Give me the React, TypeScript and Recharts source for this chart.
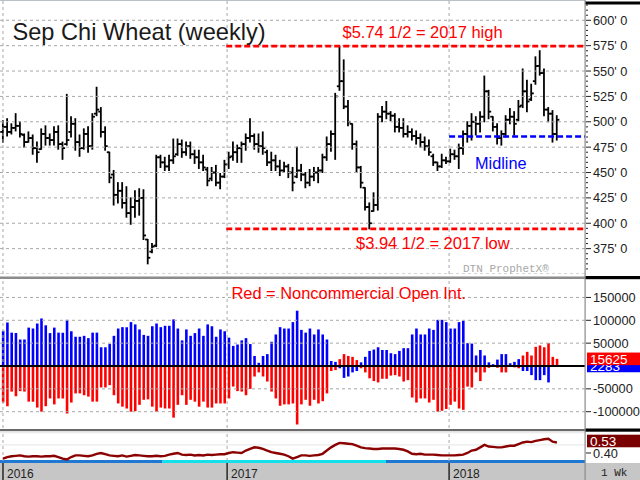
import React from 'react';
import { ComposedChart, Bar, Line, XAxis, YAxis, ReferenceLine } from 'recharts';

// ---------- DATA (weekly, first bar = first week of 2016) ----------
const opens = [
  490, 495, 490, 494, 496, 487, 480, 484, 474, 473,
  488, 484, 482, 490, 478, 478, 490, 498, 480, 474,
  488, 476, 508, 510, 490, 470, 448, 428, 432, 420,
  410, 416, 422, 425, 384, 372, 378, 465, 460, 456,
  462, 468, 478, 470, 476, 468, 465, 460, 453, 444,
  450, 440, 446, 458, 466, 470, 474, 478, 484, 486,
  478, 476, 470, 460, 462, 456, 452, 456, 450, 446,
  452, 448, 440, 446, 450, 452, 465, 478, 488, 535,
  540, 515, 498, 478, 455, 435, 416, 412, 418, 505,
  510, 508, 506, 495, 494, 488, 490, 486, 484, 480,
  476, 466, 460, 456, 462, 461, 468, 466, 474, 488,
  496, 500, 498, 505, 530, 505, 495, 484, 488, 502,
  505, 502, 516, 530, 522, 540, 555, 548, 512, 508,
  488,
];
const highs = [
  501, 503, 498, 508, 500, 488, 490, 487, 480, 493,
  496, 488, 495, 496, 480, 527, 505, 503, 487, 493,
  495, 508, 534, 514, 495, 470, 452, 440, 440, 436,
  425, 432, 434, 433, 384, 380, 467, 467, 465, 467,
  483, 483, 482, 480, 480, 472, 472, 467, 455, 455,
  457, 449, 462, 470, 480, 477, 480, 488, 503, 488,
  488, 490, 472, 470, 467, 462, 460, 458, 455, 475,
  458, 450, 453, 455, 455, 468, 485, 491, 528, 574.5,
  561, 521, 498, 481, 456, 435, 420, 430, 508, 515,
  520, 510, 508, 503, 503, 496, 493, 491, 488, 485,
  482, 468, 460, 468, 465, 473, 472, 478, 491, 500,
  508, 505, 510, 545, 531, 505, 498, 491, 506, 513,
  510, 521, 552, 541, 537, 564, 570, 552, 514, 511,
  506,
];
const lows = [
  480, 486, 488, 491, 485, 475, 480, 468, 460, 473,
  477, 477, 477, 473, 463, 477, 485, 472, 466, 473,
  470, 473, 506, 485, 472, 440, 418, 420, 415, 406,
  399, 406, 408, 384, 360, 371, 377, 455, 452, 452,
  459, 467, 465, 467, 464, 459, 454, 452, 437, 442,
  437, 434, 445, 454, 462, 460, 460, 472, 480, 473,
  470, 468, 457, 452, 452, 447, 450, 445, 432, 445,
  442, 435, 437, 442, 440, 450, 462, 471, 463, 531,
  513, 496, 473, 450, 435, 413, 394.5, 412, 413, 500,
  503, 501, 490, 490, 485, 485, 482, 478, 475, 472,
  467, 457, 452, 455, 459, 460, 463, 454, 468, 480,
  482, 487, 490, 500, 503, 491, 478, 477, 485, 498,
  487, 501, 514, 510, 521, 537, 546, 506, 500, 480,
  482,
];
const closes = [
  495, 490, 494, 496, 488, 480, 484, 474, 470, 488,
  484, 482, 490, 478, 474, 482, 498, 480, 474, 488,
  476, 505, 512, 490, 476, 445, 428, 432, 420, 410,
  416, 422, 425, 388, 366, 377, 465, 460, 456, 462,
  466, 478, 470, 476, 468, 465, 460, 455, 442, 450,
  440, 446, 458, 465, 470, 474, 478, 484, 486, 478,
  476, 474, 460, 462, 456, 452, 456, 450, 440, 452,
  448, 440, 446, 450, 452, 465, 478, 488, 525, 540,
  515, 500, 478, 455, 440, 416, 400, 418, 505, 510,
  508, 506, 495, 494, 488, 490, 486, 484, 480, 476,
  470, 460, 456, 462, 461, 468, 466, 474, 488, 496,
  500, 498, 505, 530, 510, 495, 484, 488, 502, 505,
  498, 515, 530, 520, 528, 555, 548, 512, 508, 488,
  502,
];

// Commercial net (blue) and Noncommercial net (red) open interest
const commercialNet = [
  77000, 95000, 73000, 72000, 58000, 58000, 84000, 82000, 93000, 104000,
  89000, 72000, 84000, 73000, 73000, 101000, 76000, 64000, 64000, 66000,
  61000, 73000, 73000, 41000, 41000, 48000, 66000, 82000, 85000, 85000,
  96000, 91000, 80000, 68000, 66000, 87000, 93000, 85000, 88000, 88000,
  102000, 82000, 56000, 80000, 66000, 72000, 82000, 66000, 91000, 87000,
  64000, 80000, 76000, 62000, 44000, 47000, 56000, 61000, 48000, 22000,
  7000, 22000, 26000, 53000, 69000, 85000, 82000, 82000, 96000, 121000,
  79000, 73000, 82000, 69000, 80000, 69000, 58000, 11000, 9000, -5000,
  -26000, -23000, -14000, -11000, 8000, 20000, 33000, 36000, 41000, 35000,
  35000, 28000, 26000, 33000, 39000, 39000, 69000, 82000, 69000, 69000,
  82000, 79000, 101000, 101000, 96000, 82000, 82000, 96000, 99000, 50000,
  49000, 23000, 35000, 23000, 8000, 4000, 14000, 26000, 26000, 6000,
  9000, 15000, -11000, -11000, -20000, -31000, -31000, -20000, -36000, 1500,
  2283,
];
const noncommercialNet = [
  -80000, -88000, -56000, -66000, -55000, -56000, -78000, -78000, -91000, -100000,
  -88000, -71000, -84000, -71000, -71000, -104000, -80000, -60000, -60000, -64000,
  -67000, -78000, -78000, -47000, -47000, -42000, -64000, -82000, -89000, -93000,
  -100000, -99000, -85000, -74000, -73000, -89000, -100000, -91000, -93000, -93000,
  -113000, -85000, -64000, -85000, -74000, -78000, -89000, -78000, -91000, -91000,
  -82000, -82000, -82000, -71000, -45000, -55000, -56000, -64000, -50000, -23000,
  -14000, -23000, -34000, -56000, -71000, -87000, -84000, -84000, -82000, -128000,
  -84000, -74000, -87000, -74000, -82000, -77000, -60000, -11000, -9000, 15000,
  26000, 22000, 20000, 13000, -5000, -14000, -27000, -33000, -36000, -28000,
  -28000, -21000, -20000, -23000, -34000, -31000, -69000, -80000, -71000, -71000,
  -80000, -74000, -100000, -98000, -94000, -85000, -78000, -93000, -96000, -45000,
  -47000, -14000, -33000, -14000, -4000, -2000, -4000, -14000, -14000, -2000,
  -3000, -5000, 23000, 31000, 23000, 42000, 45000, 41000, 50000, 20000,
  15625,
];

// Lower indicator line
const ratioLine = [
  0.33,
  0.35, 0.36, 0.365,
  0.37, 0.36, 0.355, 0.36, 0.36,
  0.355, 0.36, 0.36, 0.365,
  0.35, 0.33,
  0.32,
  0.35, 0.37,
  0.37, 0.365, 0.36,
  0.37, 0.39, 0.4,
  0.385, 0.37, 0.365,
  0.36, 0.37, 0.355,
  0.365, 0.375, 0.37, 0.365,
  0.36, 0.36, 0.365, 0.36, 0.365,
  0.38, 0.39,
  0.4,
  0.38, 0.375, 0.38,
  0.37, 0.375, 0.37, 0.38, 0.375, 0.38,
  0.385, 0.385, 0.4,
  0.41, 0.405, 0.4,
  0.43, 0.45, 0.47, 0.465,
  0.45, 0.43, 0.41,
  0.4, 0.39, 0.38, 0.36,
  0.33,
  0.35, 0.37, 0.37,
  0.365, 0.37, 0.375, 0.39,
  0.43, 0.47, 0.5,
  0.525, 0.52, 0.515, 0.51,
  0.49, 0.47, 0.46,
  0.455, 0.45, 0.45, 0.455,
  0.455, 0.455, 0.455, 0.45,
  0.44, 0.42, 0.39,
  0.385, 0.39, 0.38, 0.38,
  0.38, 0.375, 0.37,
  0.37, 0.37, 0.37,
  0.375, 0.38, 0.4,
  0.43, 0.44, 0.47,
  0.5, 0.48, 0.475,
  0.47, 0.47, 0.48,
  0.49, 0.49, 0.51,
  0.53, 0.54, 0.535,
  0.55, 0.56, 0.57,
  0.575, 0.54, 0.53,
];

const yearLabels = ['2016', '2017', '2018'];
const yearWeekPositions = [0, 52.6, 104.7];
const priceTicks = [375, 400, 425, 450, 475, 500, 525, 550, 575, 600];
const cotTicks = [150000, 100000, 50000, -50000, -100000];
const ratioTicks = [0.4];
const highLevel = 574.5;
const lowLevel = 394.5;
const midLevel = 485.5;

// ---------- layout constants ----------
const X_DOMAIN: [number, number] = [-0.7, 136.6];
const AXIS_W = 55;
const FONT = "'Liberation Sans', Arial, sans-serif";

const priceData = highs.map((h, i) => ({
  week: i,
  range: [lows[i], h],
  open: opens[i],
  high: h,
  low: lows[i],
  close: closes[i],
}));
const cotData = commercialNet.map((c, i) => ({
  week: i,
  commercial: c,
  noncommercial: noncommercialNet[i],
}));
const ratioData = ratioLine.map((r, i) => ({ week: i, ratio: r }));

const minorPriceTicks: number[] = [];
for (let v = 355; v <= 615; v += 5) minorPriceTicks.push(v);

const OhlcShape = (props: any) => {
  const { x, y, width, height, payload } = props;
  if (!payload || x == null) return null;
  const cx = x + width / 2;
  const top = Math.min(y, y + height);
  const h = Math.abs(height);
  const span = payload.high - payload.low || 1;
  const yo = top + ((payload.high - payload.open) / span) * h;
  const yc = top + ((payload.high - payload.close) / span) * h;
  return (
    <g stroke="#000" strokeWidth={1.8}>
      <line x1={cx} y1={top - 0.5} x2={cx} y2={top + h + 0.5} />
      <line x1={cx - 2.6} y1={yo} x2={cx} y2={yo} />
      <line x1={cx} y1={yc} x2={cx + 2.6} y2={yc} />
    </g>
  );
};

const PriceTick = (props: any) => {
  const { x, y, payload } = props;
  const v = payload.value;
  const major = priceTicks.includes(v);
  return (
    <g>
      <line x1={x + 1} y1={y} x2={x + (major ? 6 : 3)} y2={y} stroke="#222" strokeWidth={1} />
      {major && (
        <text x={x + 8} y={y} dy="0.36em" fontSize={12.8} fill="#222" fontFamily={FONT}>
          {`${v}' 0`}
        </text>
      )}
    </g>
  );
};

const PlainTick = (props: any) => {
  const { x, y, payload, digits } = props;
  const v = payload.value;
  return (
    <g>
      <line x1={x + 1} y1={y} x2={x + 6} y2={y} stroke="#222" strokeWidth={1} />
      <text x={x + 8} y={y} dy="0.36em" fontSize={12.8} fill="#222" fontFamily={FONT}>
        {digits ? v.toFixed(digits) : String(v)}
      </text>
    </g>
  );
};

const YearTick = (props: any) => {
  const { x, y, index } = props;
  return (
    <g>
      <line x1={x} y1={y + 2} x2={x} y2={y + 19} stroke="#000" strokeWidth={1.2} />
      <text x={x + 4} y={y + 16.5} fontSize={12} fill="#222" fontFamily={FONT}>
        {yearLabels[index]}
      </text>
    </g>
  );
};

const valueBox = (text: string, fill: string, dy = 0) => (props: any) => {
  const vb = props.viewBox;
  if (!vb) return null;
  const bx = vb.x + vb.width + 2;
  const by = vb.y + dy;
  return (
    <g>
      <rect x={bx} y={by - 6.3} width={53} height={12.6} fill={fill} />
      <text x={bx + 3} y={by} dy="0.38em" fontSize={13.5} fill="#fff" fontFamily={FONT}>
        {text}
      </text>
    </g>
  );
};

const gridStroke = '#a8a8a8';
const gridDash = '3 3';

export default function App() {
  const last = highs.length - 1;
  return (
    <div
      style={{
        position: 'absolute',
        left: 0,
        top: 0,
        width: 640,
        height: 480,
        background: '#fff',
        overflow: 'hidden',
        fontFamily: FONT,
      }}
    >
      {/* date strip backgrounds */}
      <div style={{ position: 'absolute', left: 0, top: 463, width: 640, height: 17, background: '#c6c6c6' }} />
      <div style={{ position: 'absolute', left: 0, top: 460, width: 162, height: 3, background: '#1f78d2' }} />
      <div style={{ position: 'absolute', left: 162, top: 460, width: 224, height: 3, background: '#14e0ec' }} />
      <div style={{ position: 'absolute', left: 386, top: 460, width: 199, height: 3, background: '#1f78d2' }} />

      {/* PRICE PANEL */}
      <div style={{ position: 'absolute', left: 0, top: 0 }}>
        <ComposedChart width={640} height={274} data={priceData} margin={{ top: 0, right: 0, bottom: 0, left: 0 }}>
          <XAxis type="number" dataKey="week" domain={X_DOMAIN} allowDataOverflow hide />
          <YAxis
            orientation="right"
            width={AXIS_W}
            type="number"
            domain={[350, 620]}
            allowDataOverflow
            ticks={minorPriceTicks}
            interval={0}
            tickSize={0}
            tickMargin={0}
            tickLine={false}
            axisLine={false}
            tick={(p: any) => <PriceTick {...p} />}
          />
          {priceTicks.concat([350]).map((v) => (
            <ReferenceLine key={'pg' + v} y={v} stroke={gridStroke} strokeDasharray={gridDash} />
          ))}
          {yearWeekPositions.map((w) => (
            <ReferenceLine key={'pv' + w} x={w} stroke={gridStroke} strokeDasharray={gridDash} />
          ))}
          <ReferenceLine
            segment={[{ x: 52.4, y: highLevel }, { x: X_DOMAIN[1], y: highLevel }]}
            stroke="#ff0000"
            strokeWidth={2.6}
            strokeDasharray="6 3"
          />
          <ReferenceLine
            segment={[{ x: 52.4, y: lowLevel }, { x: X_DOMAIN[1], y: lowLevel }]}
            stroke="#ff0000"
            strokeWidth={2.6}
            strokeDasharray="6 3"
          />
          <ReferenceLine
            segment={[{ x: 104.7, y: midLevel }, { x: X_DOMAIN[1], y: midLevel }]}
            stroke="#0000ff"
            strokeWidth={2.4}
            strokeDasharray="6 3"
          />
          <Bar dataKey="range" barSize={2} shape={(p: any) => <OhlcShape {...p} />} isAnimationActive={false} />
        </ComposedChart>
      </div>

      {/* COT PANEL */}
      <div style={{ position: 'absolute', left: 0, top: 281 }}>
        <ComposedChart
          width={640}
          height={147}
          data={cotData}
          margin={{ top: 0, right: 0, bottom: 0, left: 0 }}
          barGap={-2.6}
        >
          <XAxis type="number" dataKey="week" domain={X_DOMAIN} allowDataOverflow hide />
          <YAxis
            orientation="right"
            width={AXIS_W}
            type="number"
            domain={[-135700, 186000]}
            allowDataOverflow
            ticks={cotTicks}
            interval={0}
            tickSize={0}
            tickMargin={0}
            tickLine={false}
            axisLine={false}
            tick={(p: any) => <PlainTick {...p} />}
          />
          {cotTicks.map((v) => (
            <ReferenceLine key={'cg' + v} y={v} stroke={gridStroke} strokeDasharray={gridDash} />
          ))}
          {yearWeekPositions.map((w) => (
            <ReferenceLine key={'cv' + w} x={w} stroke={gridStroke} strokeDasharray={gridDash} />
          ))}
          <Bar dataKey="commercial" fill="#0000ff" barSize={2.6} isAnimationActive={false} />
          <Bar dataKey="noncommercial" fill="#ff0000" barSize={2.6} isAnimationActive={false} />
          <ReferenceLine y={0} stroke="#000" strokeWidth={2} />
          <ReferenceLine
            y={commercialNet[last]}
            stroke="none"
            label={valueBox(String(commercialNet[last]), '#0000ff', 1)}
          />
          <ReferenceLine
            y={noncommercialNet[last]}
            stroke="none"
            label={valueBox(String(noncommercialNet[last]), '#ff0000')}
          />
        </ComposedChart>
      </div>

      {/* RATIO LINE PANEL + DATE AXIS */}
      <div style={{ position: 'absolute', left: 0, top: 431 }}>
        <ComposedChart width={640} height={49} data={ratioData} margin={{ top: 0, right: 0, bottom: 0, left: 0 }}>
          <XAxis
            type="number"
            dataKey="week"
            domain={X_DOMAIN}
            allowDataOverflow
            height={19}
            ticks={yearWeekPositions}
            interval={0}
            tickSize={0}
            tickMargin={0}
            axisLine={false}
            tickLine={false}
            tick={(p: any) => <YearTick {...p} />}
          />
          <YAxis
            orientation="right"
            width={AXIS_W}
            type="number"
            domain={[0.301, 0.672]}
            allowDataOverflow
            ticks={ratioTicks}
            interval={0}
            tickSize={0}
            tickMargin={0}
            tickLine={false}
            axisLine={false}
            tick={(p: any) => <PlainTick {...p} digits={2} />}
          />
          <ReferenceLine y={0.5} stroke="#e4e4e4" />
          <ReferenceLine y={0.65} stroke="#e4e4e4" />
          {yearWeekPositions.map((w) => (
            <ReferenceLine key={'lv' + w} x={w} stroke={gridStroke} strokeDasharray={gridDash} />
          ))}
          <Line
            dataKey="ratio"
            stroke="#8b0000"
            strokeWidth={2.4}
            dot={false}
            type="linear"
            isAnimationActive={false}
          />
          <ReferenceLine
            y={ratioLine[last]}
            stroke="none"
            label={valueBox(ratioLine[last].toFixed(2), '#7a0000', -1.5)}
          />
        </ComposedChart>
      </div>

      {/* frame, separators and annotations */}
      <svg
        width={640}
        height={480}
        style={{ position: 'absolute', left: 0, top: 0, pointerEvents: 'none' }}
      >
        <rect x={0} y={0} width={585} height={1} fill="#b8c0c8" />
        <rect x={585} y={1.5} width={55} height={3} fill="#000" />
        <rect x={0} y={276.5} width={585} height={2.5} fill="#8c8c8c" />
        <rect x={585} y={276} width={55} height={3.2} fill="#000" />
        <rect x={0} y={429} width={585} height={2.2} fill="#6a6a6a" />
        <rect x={585} y={428.5} width={55} height={3.2} fill="#000" />
        <rect x={584.5} y={0} width={1.2} height={480} fill="#8a8a8a" />

        <text x={12.5} y={40} fontSize={23.6} fill="#1a1a1a" fontFamily={FONT}>
          Sep Chi Wheat (weekly)
        </text>
        <text x={342.5} y={37.5} fontSize={16.5} fill="#ff0000" fontFamily={FONT}>
          $5.74 1/2 = 2017 high
        </text>
        <text x={356} y={248.5} fontSize={16.5} fill="#ff0000" fontFamily={FONT}>
          $3.94 1/2 = 2017 low
        </text>
        <text x={475} y={168.5} fontSize={16.3} fill="#0000ff" fontFamily={FONT}>
          Midline
        </text>
        <text x={463} y={272} fontSize={11} fill="#a8a8a8" fontFamily="'Liberation Mono', monospace">
          DTN ProphetX®
        </text>
        <text x={231.5} y={298.5} fontSize={16.4} fill="#ff0000" fontFamily={FONT}>
          Red = Noncommercial Open Int.
        </text>
        <text x={601} y={476} fontSize={11} fill="#222" fontFamily="'Liberation Mono', monospace">
          1 Wk
        </text>
      </svg>
    </div>
  );
}
